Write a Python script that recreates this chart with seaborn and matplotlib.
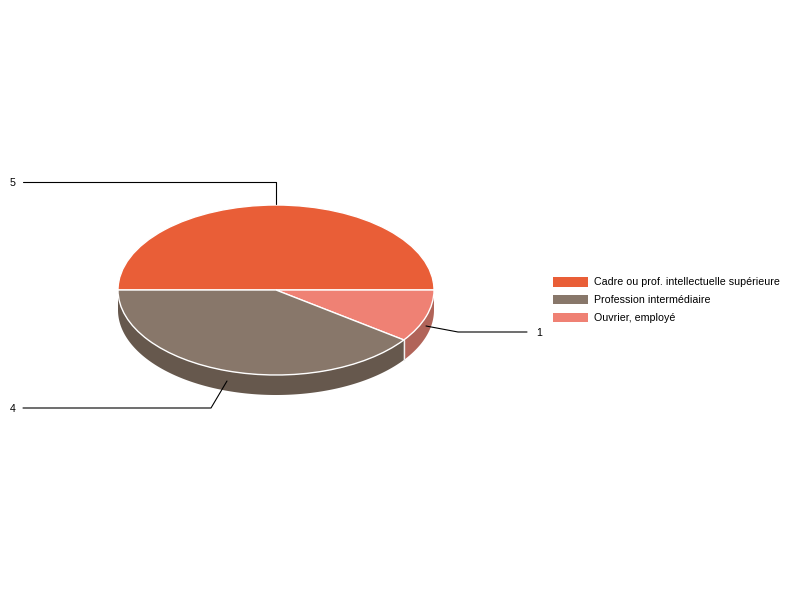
import numpy as np
import matplotlib
matplotlib.use("Agg")
import matplotlib.pyplot as plt
import seaborn as sns
from matplotlib.patches import Patch

sns.set_theme(style="white")
plt.rcParams['font.family'] = ['Liberation Sans', 'DejaVu Sans']

categories = ["Cadre ou prof. intellectuelle supérieure", "Profession intermédiaire", "Ouvrier, employé"]
values = [5, 4, 1]
top_colors = ["#E95E37", "#88776A", "#EF8174"]
side_colors = ["#A34228", "#66584D", "#B16459"]
# drawing order around the pie (clockwise from the left)
pie_order = [0, 2, 1]

W, H = 800, 600
CX, CY, RX, RY, DEPTH = 276, 290, 158, 85, 20

fig = plt.figure(figsize=(W / 100, H / 100), dpi=100, facecolor="white")
ax = fig.add_axes([0, 0, 1, 1])

vals = [values[i] for i in pie_order]
cols = [top_colors[i] for i in pie_order]
ax.pie(vals, colors=cols, startangle=180, counterclock=False,
       wedgeprops=dict(edgecolor="white", linewidth=1.0, zorder=3))
ax.set_aspect("auto")
ax.set_xlim(-CX / RX, (W - CX) / RX)
ax.set_ylim(-(H - CY) / RY, CY / RY)
ax.set_axis_off()

# extruded side of the pie, below the top face
d = DEPTH / RY
start = 180.0
total = sum(vals)
for i, v in zip(pie_order, vals):
    end = start - 360.0 * v / total
    t = np.radians(np.linspace(start, end, 200))
    xs, ys = np.cos(t), np.sin(t)
    vis = ys <= 1e-9
    if vis.any():
        xv, yv = xs[vis], ys[vis]
        ax.fill(np.r_[xv, xv[::-1]], np.r_[yv, yv[::-1] - d], color=side_colors[i], lw=0, zorder=1)
    start = end

# white seam at the slice boundary on the side
b = np.radians(180.0 - 360.0 * (values[0] + values[2]) / total)
ax.plot([np.cos(b)] * 2, [np.sin(b), np.sin(b) - d], color="#EFEFEF", lw=1.0, zorder=2)


def px(x, y):
    return (x - CX) / RX, (CY - y) / RY


def leader(points, label, tx):
    p = [px(*q) for q in points]
    ax.plot([q[0] for q in p], [q[1] for q in p], color="black", lw=0.8, zorder=4)
    tp = px(tx, points[-1][1] + 0.5)
    ax.text(tp[0], tp[1], label, ha="left", va="center", fontsize=7.68, color="black", zorder=5)


leader([(276, 204), (276, 182), (23, 182)], str(values[0]), 10)
leader([(227, 381), (211, 408), (23, 408)], str(values[1]), 10)
leader([(426, 326), (458, 332), (527, 332)], str(values[2]), 536)

handles = [Patch(facecolor=c, edgecolor="none") for c in top_colors]
leg = fig.legend(handles, categories, loc="upper left", bbox_to_anchor=(553 / W, 1 - 277 / H),
                 frameon=False, fontsize=7.68, handlelength=3.28, handleheight=1.0,
                 labelspacing=0.7, handletextpad=0.56, borderpad=0, borderaxespad=0, labelcolor="black")

fig.savefig("out.png", dpi=100, facecolor="white")
